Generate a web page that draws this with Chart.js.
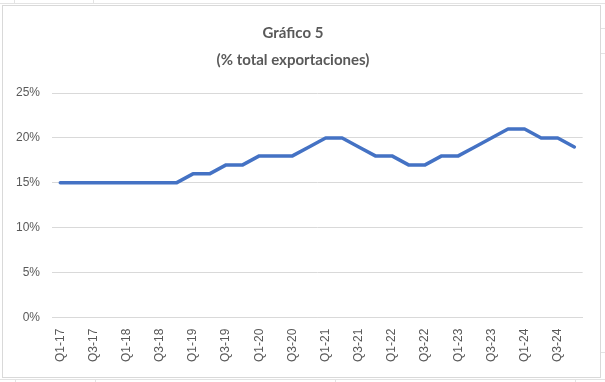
<!DOCTYPE html>
<html>
<head>
<meta charset="utf-8">
<script src="https://cdn.jsdelivr.net/npm/chart.js@4/dist/chart.umd.min.js"></script>
<style>
  html, body { margin: 0; padding: 0; background: #ffffff; }
  body { width: 605px; height: 382px; position: relative; overflow: hidden; }
  .gl { position: absolute; background: #e3e3e3; }
  #box { position: absolute; left: 2px; top: 5px; width: 597px; height: 371px; border: 1px solid #d9d9d9; background: #fff; }
  #wrap { position: absolute; left: 0; top: 0; width: 597px; height: 371px; }
</style>
</head>
<body>
<div class="gl" style="left:0;top:3px;width:605px;height:1px;"></div>
<div class="gl" style="left:14px;top:0;width:1px;height:4px;"></div>
<div class="gl" style="left:93px;top:0;width:1px;height:4px;"></div>
<div class="gl" style="left:600px;top:28px;width:5px;height:1px;"></div>
<div class="gl" style="left:600px;top:53px;width:5px;height:1px;"></div>
<div class="gl" style="left:600px;top:352px;width:5px;height:1px;"></div>
<div class="gl" style="left:0;top:379px;width:605px;height:1px;"></div>
<div class="gl" style="left:15px;top:379px;width:1px;height:3px;"></div>
<div class="gl" style="left:95px;top:379px;width:1px;height:3px;"></div>
<div class="gl" style="left:335px;top:379px;width:1px;height:3px;"></div>
<div class="gl" style="left:575px;top:379px;width:1px;height:3px;"></div>
<div id="box"><div id="wrap"><canvas id="c"></canvas></div></div>
<script>
const categories = [
  'Q1-17','Q2-17','Q3-17','Q4-17',
  'Q1-18','Q2-18','Q3-18','Q4-18',
  'Q1-19','Q2-19','Q3-19','Q4-19',
  'Q1-20','Q2-20','Q3-20','Q4-20',
  'Q1-21','Q2-21','Q3-21','Q4-21',
  'Q1-22','Q2-22','Q3-22','Q4-22',
  'Q1-23','Q2-23','Q3-23','Q4-23',
  'Q1-24','Q2-24','Q3-24','Q4-24'
];
const shareValues = [
  15, 15, 15, 15,
  15, 15, 15, 15,
  16, 16, 17, 17,
  18, 18, 18, 19,
  20, 20, 19, 18,
  18, 17, 17, 18,
  18, 19, 20, 21,
  21, 20, 20, 19
];
const titleLines = ['Gráfico 5', '(% total exportaciones)'];
const yTicks = [0, 5, 10, 15, 20, 25];

new Chart(document.getElementById('c'), {
  type: 'line',
  data: {
    labels: categories,
    datasets: [{
      data: shareValues,
      borderColor: '#4472C4',
      borderWidth: 3.5,
      pointRadius: 0,
      tension: 0,
      fill: false,
      borderCapStyle: 'round',
      borderJoinStyle: 'round'
    }]
  },
  options: {
    responsive: true,
    maintainAspectRatio: false,
    animation: false,
    layout: { padding: { left: 0, right: 17, top: 0, bottom: 4 } },
    plugins: {
      legend: { display: false },
      tooltip: { enabled: false },
      title: {
        display: true,
        text: titleLines,
        color: '#595959',
        font: { family: 'Lato', size: 15, weight: 'bold', lineHeight: 1.8 },
        padding: { top: 14, bottom: 19 }
      }
    },
    scales: {
      x: {
        offset: true,
        grid: { display: false, drawTicks: false },
        border: { display: true, color: '#d9d9d9', width: 1 },
        ticks: {
          autoSkip: false,
          minRotation: 90,
          maxRotation: 90,
          padding: 11,
          color: '#595959',
          font: { family: 'Liberation Sans', size: 12 },
          callback: function (v, i) { return i % 2 === 0 ? categories[i] : ''; }
        }
      },
      y: {
        min: 0,
        max: 25,
        afterBuildTicks: function (scale) { scale.ticks = yTicks.map(v => ({ value: v })); },
        afterFit: function (scale) { scale.width = 49; },
        grid: { color: '#d9d9d9', lineWidth: 1, drawTicks: false },
        border: { display: false },
        ticks: {
          padding: 12,
          color: '#595959',
          font: { family: 'Liberation Sans', size: 12 },
          callback: function (v) { return v + '%'; }
        }
      }
    }
  }
});
</script>
</body>
</html>
